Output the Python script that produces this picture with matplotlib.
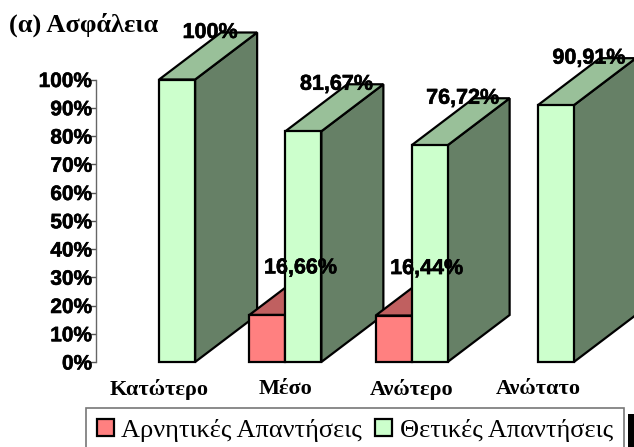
import matplotlib
matplotlib.use("Agg")
import matplotlib.pyplot as plt
import matplotlib.patheffects as pe
from matplotlib.patches import Patch, Polygon, Rectangle

categories = ["Κατώτερο", "Μέσο", "Ανώτερο", "Ανώτατο"]
negative = [0, 16.66, 16.44, 0]
positive = [100, 81.67, 76.72, 90.91]
negative_labels = ["", "16,66%", "16,44%", ""]
positive_labels = ["100%", "81,67%", "76,72%", "90,91%"]
y_ticks = [0, 10, 20, 30, 40, 50, 60, 70, 80, 90, 100]
series_names = ["Αρνητικές Απαντήσεις", "Θετικές Απαντήσεις"]

W, H = 634, 447
DPI = 100
SANS = "Liberation Sans"
SERIF = "Liberation Serif"
GREEN = ("#CCFFCC", "#99C099", "#668066")
RED = ("#FF8080", "#C06060", "#805050")
HEAVY = [pe.withStroke(linewidth=0.4, foreground="black")]

fig = plt.figure(figsize=(W / DPI, H / DPI), dpi=DPI, facecolor="white")
ax = fig.add_axes([96 / W, 1 - 362 / H, 505 / W, 282.5 / H])
ax.patch.set_alpha(0)
ax.set_xlim(-0.5, 3.5)
ax.set_ylim(0, 100)

BAR_W = 36 / 126.25
DEPTH_X = 62 / 126.25
DEPTH_Y = 47 / 2.825
LW = 1.6


def box(left, value, colours, z):
    """Draw a pseudo-3D column: side face, top face, then front face."""
    right = left + BAR_W
    common = dict(edgecolor="black", linewidth=LW, clip_on=False, zorder=z, joinstyle="miter")
    ax.add_patch(Polygon([(right, 0), (right + DEPTH_X, DEPTH_Y),
                          (right + DEPTH_X, value + DEPTH_Y), (right, value)],
                         facecolor=colours[2], **common))
    ax.add_patch(Polygon([(left, value), (right, value),
                          (right + DEPTH_X, value + DEPTH_Y), (left + DEPTH_X, value + DEPTH_Y)],
                         facecolor=colours[1], **common))
    ax.bar(left, value, width=BAR_W, align="edge", color=colours[0],
           edgecolor="black", linewidth=LW, clip_on=False, zorder=z)


z = 2
for i in range(len(categories)):
    if negative[i] > 0:
        box(i - BAR_W, negative[i], RED, z)
        z += 1
    box(i, positive[i], GREEN, z)
    z += 1

label_style = dict(textcoords="offset pixels", ha="center", va="center", family=SANS,
                   fontweight="bold", fontsize=15.5, color="black", zorder=50,
                   annotation_clip=False, path_effects=HEAVY)
for i in range(len(categories)):
    ax.annotate(positive_labels[i], (i + BAR_W / 2, positive[i]), xytext=(33, 47), **label_style)
    if negative[i] > 0:
        ax.annotate(negative_labels[i], (i - BAR_W / 2, negative[i]), xytext=(33, 47), **label_style)

ax.set_yticks(y_ticks)
ax.set_yticklabels([f"{v}%" for v in y_ticks], family=SANS, fontweight="bold", fontsize=15,
                   path_effects=HEAVY)
ax.tick_params(axis="y", length=5.8, width=1.0, color="#555555", pad=-3)
ax.set_xticks(range(len(categories)))
ax.set_xticklabels(categories, family=SERIF, fontweight="bold", fontsize=16)
ax.tick_params(axis="x", length=0, pad=12)
for side in ("top", "right", "bottom"):
    ax.spines[side].set_visible(False)
ax.spines["left"].set_color("#666666")
ax.spines["left"].set_linewidth(1.0)

fig.text(9 / W, 1 - 25 / H, "(α) Ασφάλεια", family=SERIF, fontweight="bold",
         fontsize=19, va="center", ha="left", color="black")

# Dark shadow behind the legend box, running off the figure edge
fig.add_artist(Rectangle((628 / W, 0), 6 / W, 33 / H, transform=fig.transFigure,
                         facecolor="black", edgecolor="none", zorder=1))

handles = [Patch(facecolor=RED[0], edgecolor="black", linewidth=LW),
           Patch(facecolor=GREEN[0], edgecolor="black", linewidth=LW)]
legend = fig.legend(handles, series_names, ncol=2, loc="upper left",
                    bbox_to_anchor=(86 / W, 1 - 408 / H),
                    prop={"family": SERIF, "size": 19}, frameon=True, fancybox=False,
                    edgecolor="#777777", facecolor="white", framealpha=1,
                    borderaxespad=0, borderpad=0.42, handlelength=0.65, handleheight=0.62,
                    handletextpad=0.27, columnspacing=0.5)
legend.get_frame().set_linewidth(1.2)
legend.set_zorder(5)

fig.savefig("out.png", dpi=DPI)
